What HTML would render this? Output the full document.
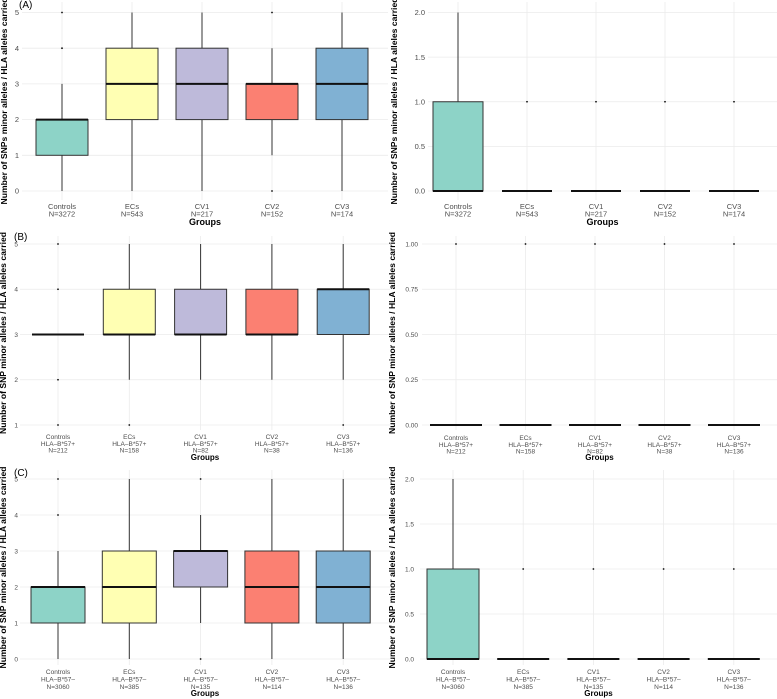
<!DOCTYPE html>
<html><head><meta charset="utf-8"><style>
html,body{margin:0;padding:0;background:#fff;}
svg{display:block;font-family:"Liberation Sans",sans-serif;}
</style></head><body>
<svg id="chart" width="777" height="699" viewBox="0 0 777 699"></svg>
<script>
const colors = ["#8DD3C7","#FFFFB3","#BEBADA","#FB8072","#80B1D3"];
const groupsA = ["Controls","ECs","CV1","CV2","CV3"];
const nA = ["N=3272","N=543","N=217","N=152","N=174"];
const nB = ["N=212","N=158","N=82","N=38","N=136"];
const nC = ["N=3060","N=385","N=135","N=114","N=136"];
// stats: [lowWhisker, q1, median, q3, highWhisker]
const statsAL = [[0,1,2,2,3],[0,2,3,4,5],[0,2,3,4,5],[1,2,3,3,4],[0,2,3,4,5]];
const outAL = [[4,5],[],[],[0,5],[]];
const statsAR = [[0,0,0,1,2],[0,0,0,0,0],[0,0,0,0,0],[0,0,0,0,0],[0,0,0,0,0]];
const outAR = [[],[1],[1],[1],[1]];
const statsBL = [[3,3,3,3,3],[2,3,3,4,5],[2,3,3,4,5],[2,3,3,4,5],[2,3,4,4,5]];
const outBL = [[1,2,4,5],[1],[],[],[1]];
const statsBR = [[0,0,0,0,0],[0,0,0,0,0],[0,0,0,0,0],[0,0,0,0,0],[0,0,0,0,0]];
const outBR = [[1],[1],[1],[1],[1]];
const statsCL = [[0,1,2,2,3],[0,1,2,3,5],[1,2,3,3,4],[0,1,2,3,5],[0,1,2,3,5]];
const outCL = [[4,5],[],[0,5],[],[]];
const statsCR = [[0,0,0,1,2],[0,0,0,0,0],[0,0,0,0,0],[0,0,0,0,0],[0,0,0,0,0]];
const outCR = [[],[1],[1],[1],[1]];
const ticksInt5 = [0,1,2,3,4,5];
const ticksInt1to5 = [1,2,3,4,5];
const ticks2 = [0,0.5,1,1.5,2];
const ticks1 = [0,0.25,0.5,0.75,1];

const svg = document.getElementById('chart');
const NS = "http://www.w3.org/2000/svg";
function mk(tag, attrs, parent){const e=document.createElementNS(NS,tag);for(const k in attrs)e.setAttribute(k,attrs[k]);(parent||svg).appendChild(e);return e;}

function panel(p){
  const g = mk('g',{});
  
  
  const tMin=p.ticks[0], tMax=p.ticks[p.ticks.length-1];
  const y = v => p.yBot + (v - tMin)/(tMax - tMin)*(p.yTop - p.yBot);
  const x = i => p.x0 + i*p.dx;
  p.ticks.forEach(t=>{
    const l=mk('line',{x1:p.gx0,x2:p.gx1,y1:y(t),y2:y(t),stroke:'#ebebeb','stroke-width':0.8},g);
    
    
    const tx=mk('text',{x:p.labX,y:y(t)+p.fs*0.35,'text-anchor':'end','font-size':p.fs,fill:'#4d4d4d'},g);
    tx.textContent=p.fmt(t);
    
    
  });
  for(let i=0;i<5;i++){
    const l=mk('line',{x1:x(i),x2:x(i),y1:p.gy0,y2:p.gy1,stroke:'#ebebeb','stroke-width':0.8},g);
    
    
  }
  p.stats.forEach((s,i)=>{
    const cx=x(i), hw=p.hw;
    const bg=mk('g',{},g);
    
    
    mk('line',{x1:cx,x2:cx,y1:y(s[0]),y2:y(s[1]),stroke:'#333','stroke-width':1},bg);
    mk('line',{x1:cx,x2:cx,y1:y(s[3]),y2:y(s[4]),stroke:'#333','stroke-width':1},bg);
    const h=Math.abs(y(s[1])-y(s[3]));
    mk('rect',{x:cx-hw,y:y(s[3]),width:2*hw,height:h,fill:colors[i],stroke:'#333','stroke-width':1},bg);
    mk('line',{x1:cx-hw,x2:cx+hw,y1:y(s[2]),y2:y(s[2]),stroke:'#111','stroke-width':2},bg);
    p.out[i].forEach(o=>{
      const c=mk('circle',{cx:cx,cy:y(o),r:0.9,fill:'#111'},bg);
      
      
    });
    p.xl[i].forEach((line,k)=>{
      const t=mk('text',{x:cx,y:p.xly+k*p.xlh,'text-anchor':'middle','font-size':p.fs,fill:'#4d4d4d'},g);
      t.textContent=line;
      
      
    });
  });
  const gt=mk('text',{x:(p.gx0+p.gx1)/2,y:p.groupsY,'text-anchor':'middle','font-size':p.fs+1.5,'font-weight':'bold',fill:'#000'},g);
  gt.textContent='Groups';
  
  
  const yc=(p.gy0+p.gy1)/2;
  const yt=mk('text',{x:p.titleX,y:yc,'text-anchor':'middle','font-size':8.6,'font-weight':'bold',fill:'#000',transform:`rotate(-90 ${p.titleX} ${yc})`},g);
  yt.textContent=p.ytitle;
  
  
  if(p.tag){
    const tg=mk('text',{x:p.tagX,y:p.tagY,'font-size':10,fill:'#000'},g);
    tg.textContent=p.tag;
    
    
  }
}
const lab2 = ns => groupsA.map((g,i)=>[g,ns[i]]);
const lab3 = (ns,h) => groupsA.map((g,i)=>[g,h,ns[i]]);
const int = v=>String(v), f1=v=>v.toFixed(1), f2=v=>v.toFixed(2);
const t1="Number of SNPs minor alleles / HLA alleles carried";
const t2="Number of SNP minor alleles / HLA alleles carried";

panel({name:'panel-a-left',ticks:ticksInt5,yTop:12.5,yBot:191,x0:62,dx:70,hw:26,gx0:22,gx1:388,gy0:2,gy1:200,labX:19,fs:7.5,fmt:int,stats:statsAL,out:outAL,xl:lab2(nA),xly:209,xlh:7.5,groupsY:225,titleX:7,ytitle:t1,tag:'(A)',tagX:19,tagY:8});
panel({name:'panel-a-right',ticks:ticks2,yTop:12.5,yBot:191,x0:458,dx:69,hw:25,gx0:428,gx1:777,gy0:2,gy1:200,labX:425,fs:7.5,fmt:f1,stats:statsAR,out:outAR,xl:lab2(nA),xly:209,xlh:7.5,groupsY:225,titleX:397,ytitle:t1});
panel({name:'panel-b-left',ticks:ticksInt1to5,yTop:244,yBot:425,x0:58,dx:71.3,hw:26,gx0:20,gx1:390,gy0:236,gy1:430,labX:18,fs:6.5,fmt:int,stats:statsBL,out:outBL,xl:lab3(nB,'HLA\u2013B*57+'),xly:439,xlh:6.8,groupsY:460,titleX:6,ytitle:t2,tag:'(B)',tagX:14,tagY:240});
panel({name:'panel-b-right',ticks:ticks1,yTop:244,yBot:425,x0:456,dx:69.5,hw:26,gx0:422,gx1:777,gy0:236,gy1:430,labX:418,fs:6.5,fmt:f2,stats:statsBR,out:outBR,xl:lab3(nB,'HLA\u2013B*57+'),xly:440,xlh:6.8,groupsY:460,titleX:395,ytitle:t2});
panel({name:'panel-c-left',ticks:ticksInt5,yTop:479,yBot:659,x0:58,dx:71.3,hw:27,gx0:20,gx1:390,gy0:470,gy1:665,labX:18,fs:6.5,fmt:int,stats:statsCL,out:outCL,xl:lab3(nC,'HLA\u2013B*57\u2013'),xly:674,xlh:7.4,groupsY:696,titleX:6,ytitle:t2,tag:'(C)',tagX:14,tagY:476});
panel({name:'panel-c-right',ticks:ticks2,yTop:479,yBot:659,x0:453,dx:70.2,hw:26,gx0:420,gx1:777,gy0:470,gy1:665,labX:414,fs:6.5,fmt:f1,stats:statsCR,out:outCR,xl:lab3(nC,'HLA\u2013B*57\u2013'),xly:674,xlh:7.4,groupsY:696,titleX:395,ytitle:t2});
</script>
</body></html>
